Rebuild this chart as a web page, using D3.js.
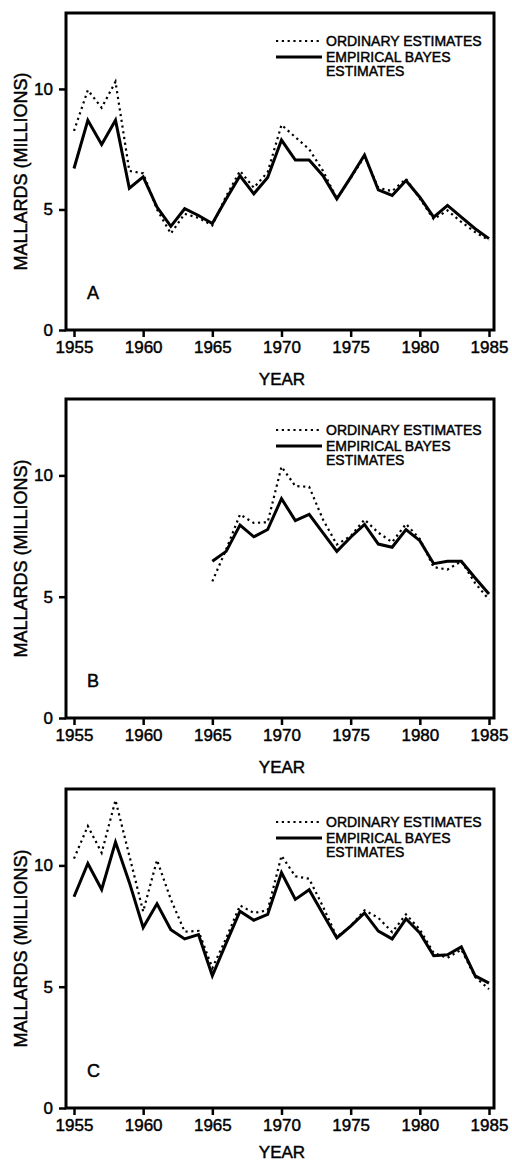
<!DOCTYPE html>
<html>
<head>
<meta charset="utf-8">
<script src="https://cdn.jsdelivr.net/npm/d3@7"></script>
<style>
  body { margin: 0; background: #fff; }
  text { font-family: "Liberation Sans", Arial, Helvetica, sans-serif; fill: #000; stroke: #000; stroke-width: 0.45px; }
</style>
</head>
<body>
<svg id="chart"></svg>
<script>
// years on the x axis
var years = [1955, 1956, 1957, 1958, 1959, 1960, 1961, 1962, 1963, 1964,
             1965, 1966, 1967, 1968, 1969, 1970, 1971, 1972, 1973, 1974,
             1975, 1976, 1977, 1978, 1979, 1980, 1981, 1982, 1983, 1984, 1985];
var yearsB = [1965, 1966, 1967, 1968, 1969, 1970, 1971, 1972, 1973, 1974,
              1975, 1976, 1977, 1978, 1979, 1980, 1981, 1982, 1983, 1984, 1985];

// panel A
var ordinaryA = [8.26, 9.95, 9.22, 10.3, 6.6, 6.5, 5.0, 4.0, 4.82, 4.65,
                 4.34, 5.55, 6.6, 5.9, 6.55, 8.51, 8.0, 7.5, 6.6, 5.45,
                 6.3, 7.2, 5.9, 5.76, 6.27, 5.45, 4.6, 4.96, 4.48, 4.06, 3.72];
var bayesA = [6.7, 8.7, 7.7, 8.7, 5.88, 6.35, 5.1, 4.3, 5.03, 4.75,
              4.42, 5.43, 6.4, 5.65, 6.33, 7.88, 7.05, 7.05, 6.4, 5.44,
              6.33, 7.26, 5.81, 5.58, 6.2, 5.51, 4.68, 5.17, 4.68, 4.2, 3.79];

// panel B (starts 1965)
var ordinaryB = [5.63, 6.95, 8.39, 8.04, 8.07, 10.36, 9.56, 9.53, 8.18, 7.15,
                 7.5, 8.18, 7.64, 7.25, 8.0, 7.38, 6.22, 6.12, 6.46, 5.56, 4.88];
var bayesB = [6.46, 6.87, 7.95, 7.47, 7.77, 9.04, 8.14, 8.39, 7.63, 6.87,
              7.45, 7.98, 7.17, 7.04, 7.77, 7.31, 6.36, 6.46, 6.46, 5.77, 5.11];

// panel C
var ordinaryC = [10.28, 11.62, 10.52, 12.69, 10.4, 8.1, 10.22, 8.6, 7.27, 7.3,
                 5.77, 7.0, 8.35, 8.04, 8.15, 10.4, 9.55, 9.45, 8.3, 7.05,
                 7.5, 8.15, 7.84, 7.25, 7.98, 7.36, 6.39, 6.19, 6.53, 5.4, 4.9];
var bayesC = [8.71, 10.08, 9.01, 10.96, 9.3, 7.44, 8.42, 7.35, 6.97, 7.15,
              5.45, 6.8, 8.11, 7.74, 7.98, 9.7, 8.6, 9.0, 8.0, 7.01,
              7.5, 8.04, 7.29, 6.97, 7.8, 7.22, 6.28, 6.32, 6.64, 5.45, 5.15];

var xTicks = [1955, 1960, 1965, 1970, 1975, 1980, 1985];
var yTicks = [0, 5, 10];
var panelLetters = ["A", "B", "C"];
var legendLabels = ["ORDINARY ESTIMATES", "EMPIRICAL BAYES", "ESTIMATES"];

var svgW = 512;
var svgH = 1163;

var frameLeft = 66;
var frameRight = 494;
var panelTops = [13, 399, 789];
var panelBottoms = [330, 718, 1108];
var legendDy = [28, 31, 33];
var yearDy = [55, 55, 50];

var panels = [
  {years: years, ordinary: ordinaryA, bayes: bayesA},
  {years: yearsB, ordinary: ordinaryB, bayes: bayesB},
  {years: years, ordinary: ordinaryC, bayes: bayesC}
];

var svg = d3.select("#chart")
  .attr("width", svgW)
  .attr("height", svgH);

svg.append("rect")
  .attr("width", svgW)
  .attr("height", svgH)
  .attr("fill", "#fff");

var xScale = d3.scaleLinear()
  .domain([1955, 1985])
  .range([74, 489]);

panels.forEach(function(p, i){
  var top = panelTops[i];
  var bottom = panelBottoms[i];

  var yScale = d3.scaleLinear()
    .domain([0, 13.15])
    .range([bottom, top]);

  var g = svg.append("g");

  // x axis
  var xAxis = d3.axisBottom(xScale)
    .tickValues(xTicks)
    .tickFormat(d3.format("d"))
    .tickSize(7)
    .tickPadding(4);

  var gx = g.append("g")
    .attr("transform", "translate(0," + bottom + ")")
    .call(xAxis);
  gx.select(".domain").remove();
  gx.selectAll("line").attr("stroke", "#000").attr("stroke-width", 2.5);
  gx.selectAll("text")
    .style("font-size", "17px")
    .attr("fill", "#000");

  // y axis
  var yAxis = d3.axisLeft(yScale)
    .tickValues(yTicks)
    .tickSize(7)
    .tickPadding(6);

  var gy = g.append("g")
    .attr("transform", "translate(" + frameLeft + ",0)")
    .call(yAxis);
  gy.select(".domain").remove();
  gy.selectAll("line").attr("stroke", "#000").attr("stroke-width", 2.5);
  gy.selectAll("text")
    .style("font-size", "17px")
    .attr("fill", "#000");

  // frame
  g.append("rect")
    .attr("x", frameLeft)
    .attr("y", top)
    .attr("width", frameRight - frameLeft)
    .attr("height", bottom - top)
    .attr("fill", "none")
    .attr("stroke", "#000")
    .attr("stroke-width", 3);

  // axis titles
  g.append("text")
    .attr("x", (frameLeft + frameRight) / 2 + 2)
    .attr("y", bottom + yearDy[i])
    .attr("text-anchor", "middle")
    .style("font-size", "17px")
    .text("YEAR");

  g.append("text")
    .attr("transform", "translate(27," + ((top + bottom) / 2) + ") rotate(-90)")
    .attr("text-anchor", "middle")
    .style("font-size", "18px")
    .text("MALLARDS (MILLIONS)");

  // panel letter
  g.append("text")
    .attr("x", 87)
    .attr("y", bottom - 31)
    .style("font-size", "18px")
    .text(panelLetters[i]);

  // lines
  var line = d3.line()
    .x(function(d){ return xScale(d[0]); })
    .y(function(d){ return yScale(d[1]); });

  g.append("path")
    .datum(d3.zip(p.years, p.ordinary))
    .attr("d", line)
    .attr("fill", "none")
    .attr("stroke", "#000")
    .attr("stroke-width", 2.2)
    .attr("stroke-dasharray", "2.2,3.6");

  g.append("path")
    .datum(d3.zip(p.years, p.bayes))
    .attr("d", line)
    .attr("fill", "none")
    .attr("stroke", "#000")
    .attr("stroke-width", 3)
    .attr("stroke-linejoin", "miter");

  // legend
  var ly = top + legendDy[i];
  g.append("line")
    .attr("x1", 276).attr("x2", 321)
    .attr("y1", ly).attr("y2", ly)
    .attr("stroke", "#000")
    .attr("stroke-width", 2.2)
    .attr("stroke-dasharray", "2.2,3.6");
  g.append("line")
    .attr("x1", 276).attr("x2", 322)
    .attr("y1", ly + 16).attr("y2", ly + 16)
    .attr("stroke", "#000")
    .attr("stroke-width", 3);

  g.selectAll(".leg")
    .data(legendLabels)
    .enter()
    .append("text")
    .attr("x", 326)
    .attr("y", function(d, k){ return ly + 5 + [0, 16, 30][k]; })
    .style("font-size", "14px")
    .text(function(d){ return d; });
});
</script>
</body>
</html>
